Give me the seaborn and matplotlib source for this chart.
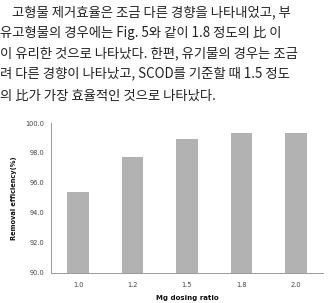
import matplotlib
matplotlib.use("Agg")
import matplotlib.pyplot as plt
import seaborn as sns
import pandas as pd
from matplotlib.ticker import FixedLocator

ratios = ["1.0", "1.2", "1.5", "1.8", "2.0"]
efficiency = [95.4, 97.7, 98.9, 99.3, 99.3]
yticks = [90.0, 92.0, 94.0, 96.0, 98.0, 100.0]
text_lines = [
    "고형물 제거효율은 조금 다른 경향을 나타내었고, 부",
    "유고형물의 경우에는 Fig. 5와 같이 1.8 정도의 比 이",
    "이 유리한 것으로 나타났다. 한편, 유기물의 경우는 조금",
    "려 다른 경향이 나타났고, SCOD를 기준할 때 1.5 정도",
    "의 比가 가장 효율적인 것으로 나타났다.",
]

sns.set_style("white")
plt.rcParams['font.family'] = ['DejaVu Sans']

W, H = 329, 303
fig = plt.figure(figsize=(W / 100, H / 100), dpi=100)
fig.patch.set_facecolor("white")

# text above the chart
line_x = [12, 0, 0, 0, 0]
line_y = [12, 33, 53, 73, 96]
for t, x, y in zip(text_lines, line_x, line_y):
    fig.text(x / W, 1 - y / H, t, ha="left", va="center", fontsize=9.6,
             family=["Noto Sans CJK KR", "DejaVu Sans"], color="#222222")

ax = fig.add_axes([51 / W, 1 - 272.5 / H, (323 - 51) / W, (272.5 - 123) / H])
df = pd.DataFrame({"ratio": ratios, "eff": efficiency})
sns.barplot(data=df, x="ratio", y="eff", color="#b2b2b2", width=0.4,
            ax=ax, saturation=1, edgecolor="none")
ax.set_ylim(90, 100)
ax.set_xlim(-0.5, len(ratios) - 0.5)
ax.set_yticks(yticks)
ax.set_yticklabels([f"{v:.1f}" for v in yticks])
ax.xaxis.set_minor_locator(FixedLocator([i - 0.5 for i in range(len(ratios) + 1)]))
ax.tick_params(axis="x", which="major", length=0, labelsize=4.8, colors="#444444", pad=7)
ax.tick_params(axis="x", which="minor", length=2.5, width=0.6, color="#999999", direction="out")
ax.tick_params(axis="y", length=2.5, width=0.6, color="#999999", labelsize=4.8,
               labelcolor="#444444", direction="out", pad=2)
for s in ["top", "right"]:
    ax.spines[s].set_visible(False)
for s in ["left", "bottom"]:
    ax.spines[s].set_color("#999999")
    ax.spines[s].set_linewidth(0.7)
ax.set_xlabel("Mg dosing ratio", fontsize=5.0, fontweight="bold", color="#111111", labelpad=5)
ax.set_ylabel("Removal efficiency(%)", fontsize=4.8, fontweight="bold", color="#111111", labelpad=6)

fig.savefig("out.png", dpi=100, facecolor="white")
